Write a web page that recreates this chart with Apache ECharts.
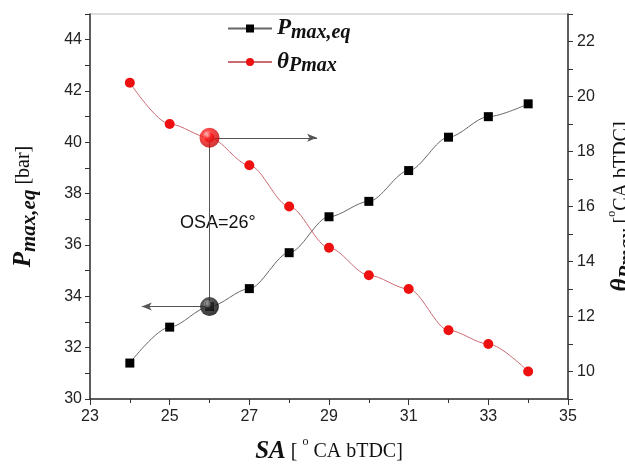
<!DOCTYPE html>
<html>
<head>
<meta charset="utf-8">
<script src="https://cdn.jsdelivr.net/npm/echarts@6/dist/echarts.min.js"></script>
<style>
  html, body { margin: 0; padding: 0; background: #fff; }
  #chart { width: 625px; height: 464px; }
</style>
</head>
<body>
<div id="chart"></div>
<script>
// spark advance, deg CA bTDC
const sa = [24, 25, 26, 27, 28, 29, 30, 31, 32, 33, 34]
// equivalent peak pressure, bar (left axis)
const pmaxEq = [31.4, 32.8, 33.6, 34.3, 35.7, 37.1, 37.7, 38.9, 40.2, 41.0, 41.5]
// crank angle of peak pressure (right axis)
const thetaPmax = [20.5, 19, 18.5, 17.5, 16, 14.5, 13.5, 13, 11.5, 11, 10]

// optimum spark advance marker
const osa = 26
const osaP = 33.6
const osaTheta = 18.5
const arrowLeftTo = 24.3
const arrowRightTo = 28.7

const leftRange = [30, 45]
const rightRange = [9, 23]

// theta value expressed on the left axis, for the vertical guide line
const thetaOnLeft = leftRange[0] + (osaTheta - rightRange[0]) / (rightRange[1] - rightRange[0]) * (leftRange[1] - leftRange[0])

const serif = 'Liberation Serif'
const sans = 'Liberation Sans'

const chart = echarts.init(document.getElementById('chart'))

const tickLabel = { fontFamily: sans, fontSize: 16, color: '#222' }
const axisLine = { lineStyle: { color: '#333', width: 1.5 } }

const nameRich = {
  P: { fontFamily: serif, fontStyle: 'italic', fontWeight: 'bold', fontSize: 25, color: '#111', lineHeight: 32, verticalAlign: 'middle' },
  s: { fontFamily: serif, fontStyle: 'italic', fontWeight: 'bold', fontSize: 21, color: '#111', verticalAlign: 'bottom' },
  u: { fontFamily: serif, fontSize: 20, color: '#111', verticalAlign: 'middle' },
  d: { fontFamily: serif, fontSize: 12, color: '#111', verticalAlign: 'top' }
}

const sphere = (light, mid, dark) => ({
  type: 'radial', x: 0.38, y: 0.35, r: 0.7,
  colorStops: [
    { offset: 0, color: light },
    { offset: 0.3, color: mid },
    { offset: 1, color: dark }
  ]
})

chart.setOption({
  animation: false,
  grid: {
    left: 90, right: 57, top: 14, bottom: 65,
    outerBoundsMode: 'none',
    containLabel: false,
    show: true, borderColor: '#bbb', borderWidth: 1
  },
  legend: {
    orient: 'vertical',
    left: 222,
    top: 12,
    itemWidth: 44,
    itemHeight: 10,
    itemGap: 8,
    data: ['Pmax,eq', 'θPmax'],
    formatter: function(name) {
      if (name === 'Pmax,eq') {
        return '{P|P}{s|max,eq}'
      }
      return '{P|θ}{s|Pmax}'
    },
    textStyle: {
      rich: {
        P: { fontFamily: serif, fontStyle: 'italic', fontWeight: 'bold', fontSize: 23, color: '#111', lineHeight: 28, verticalAlign: 'middle' },
        s: { fontFamily: serif, fontStyle: 'italic', fontWeight: 'bold', fontSize: 20, color: '#111', verticalAlign: 'bottom' }
      }
    }
  },
  xAxis: {
    type: 'value',
    min: 23,
    max: 35,
    interval: 2,
    name: '{P|SA}{u| [ }{d|o}{u| CA bTDC]}',
    nameLocation: 'middle',
    nameGap: 37,
    nameTextStyle: { rich: nameRich },
    axisLine: axisLine,
    axisTick: { length: 6, lineStyle: { color: '#333' } },
    minorTick: { show: true, splitNumber: 2, length: 4, lineStyle: { color: '#333' } },
    axisLabel: Object.assign({ margin: 10 }, tickLabel),
    splitLine: { show: false }
  },
  yAxis: [
    {
      type: 'value',
      min: leftRange[0],
      max: leftRange[1],
      interval: 1,
      name: '{P|P}{s|max,eq}{u| [bar]}',
      nameLocation: 'middle',
      nameRotate: 90,
      nameGap: 50,
      nameTextStyle: { rich: nameRich },
      axisLine: axisLine,
      axisTick: { length: 5, lineStyle: { color: '#333' } },
      axisLabel: Object.assign({
        margin: 8,
        formatter: v => (v % 2 === 0 ? String(v) : '')
      }, tickLabel),
      splitLine: { show: false }
    },
    {
      type: 'value',
      position: 'right',
      min: rightRange[0],
      max: rightRange[1],
      interval: 1,
      name: '{P|θ}{s|Pmax}{u| [}{d|o}{u|CA bTDC]}',
      nameLocation: 'middle',
      nameRotate: 90,
      nameGap: 31,
      nameTextStyle: { rich: nameRich },
      axisLine: axisLine,
      axisTick: { length: 5, lineStyle: { color: '#333' } },
      axisLabel: Object.assign({
        margin: 9,
        formatter: v => (v % 2 === 0 ? String(v) : '')
      }, tickLabel),
      splitLine: { show: false }
    }
  ],
  series: [
    {
      name: 'Pmax,eq',
      type: 'line',
      yAxisIndex: 0,
      smooth: 0.3,
      smoothMonotone: 'x',
      data: sa.map((x, i) => [x, pmaxEq[i]]),
      symbol: 'rect',
      symbolSize: 9,
      itemStyle: { color: '#000' },
      lineStyle: { color: '#666', width: 1 },
      markLine: {
        silent: true,
        symbol: ['none', 'none'],
        label: { show: false },
        lineStyle: { color: '#555', width: 1, type: 'solid' },
        data: [
          [{ coord: [osa, osaP] }, { coord: [osa, thetaOnLeft] }],
          [{ coord: [osa, osaP] }, { coord: [arrowLeftTo, osaP], symbol: 'arrow', symbolSize: [6, 10] }]
        ]
      }
    },
    {
      name: 'θPmax',
      type: 'line',
      yAxisIndex: 1,
      smooth: 0.3,
      smoothMonotone: 'x',
      data: sa.map((x, i) => [x, thetaPmax[i]]),
      symbol: 'circle',
      symbolSize: 10,
      itemStyle: { color: '#ee1010' },
      lineStyle: { color: '#cc6a72', width: 1 },
      markLine: {
        silent: true,
        symbol: ['none', 'none'],
        label: { show: false },
        lineStyle: { color: '#555', width: 1, type: 'solid' },
        data: [
          [{ coord: [osa, osaTheta] }, { coord: [arrowRightTo, osaTheta], symbol: 'arrow', symbolSize: [6, 10] }]
        ]
      }
    },
    {
      type: 'scatter',
      yAxisIndex: 0,
      z: 5,
      symbolSize: 19,
      data: [[osa, osaP]],
      itemStyle: { color: sphere('#cfcfcf', '#333', '#000') }
    },
    {
      type: 'scatter',
      yAxisIndex: 1,
      z: 5,
      symbolSize: 20,
      data: [[osa, osaTheta]],
      itemStyle: { color: sphere('#ffe0e0', '#f22', '#b00') }
    }
  ],
  graphic: [
    {
      type: 'text',
      left: 180,
      top: 214,
      style: { text: 'OSA=26°', font: '18px "Liberation Sans"', fill: '#111' }
    }
  ]
})
</script>
</body>
</html>
